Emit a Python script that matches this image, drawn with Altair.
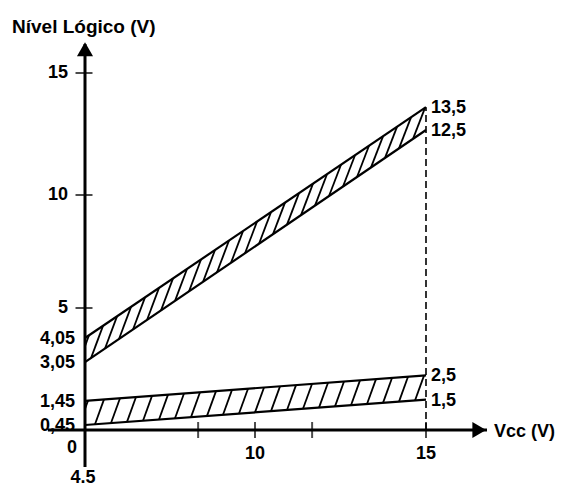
import altair as alt
import numpy as np
import pandas as pd

# ---- data ----
x_start, x_end = 4.5, 15.0
upper_left = [3.05, 4.05]     # band limits at Vcc = 4.5
upper_right = [12.5, 13.5]    # band limits at Vcc = 15
lower_left = [0.45, 1.45]
lower_right = [1.5, 2.5]
y_ticks = [5, 10, 15]
y_tick_labels = ["5", "10", "15"]
x_ticks = [8.16, 10, 11.67, 15]
x_tick_values = [10, 15]
x_tick_labels = ["10", "15"]
left_labels = ["3,05", "4,05", "0,45", "1,45"]
right_labels = ["12,5", "13,5", "1,5", "2,5"]

FONT = "Liberation Sans"

# schematic (non-uniform) scales of the original drawing
X_DOM = [4.5, 10, 15, 16.88]
X_RNG = [0, 170, 341, 402]
Y_DOM = [-1.5, 0, 0.45, 4.05, 5, 10, 12.5, 15, 16.2]
Y_RNG = [423, 386, 381, 294, 264, 151, 86, 29, 0]
xs = alt.Scale(domain=X_DOM, range=X_RNG)
ys = alt.Scale(domain=Y_DOM, range=Y_RNG)


def fx(v):
    return np.interp(v, X_DOM, X_RNG)


def fy(v):
    return np.interp(v, Y_DOM, Y_RNG)


def ix(p):
    return float(np.interp(p, X_RNG, X_DOM))


def iy(p):
    return float(np.interp(p, Y_RNG[::-1], Y_DOM[::-1]))


def X(f="x"):
    return alt.X(f"{f}:Q", scale=xs, axis=None)


def Y(f="y"):
    return alt.Y(f"{f}:Q", scale=ys, axis=None)


# band boundary lines
bands = []
for name, left, right in [("up", upper_left, upper_right), ("lo", lower_left, lower_right)]:
    for k in range(2):
        bands.append({"id": f"{name}{k}", "x": x_start, "y": left[k]})
        bands.append({"id": f"{name}{k}", "x": x_end, "y": right[k]})
bands_df = pd.DataFrame(bands)


def hatch(left, right, d, step, phase):
    # hatching computed in drawing space so that it meets the straight band edges
    X0, X1 = fx(x_start), fx(x_end)
    l0, l1 = fy(left[0]), fy(right[0])
    h0, h1 = fy(left[1]), fy(right[1])

    def lo(px):
        return l0 + (l1 - l0) * (px - X0) / (X1 - X0)

    def hi(px):
        return h0 + (h1 - h0) * (px - X0) / (X1 - X0)

    rows = []
    for p0 in np.arange(X0 - d + phase, X1, step):
        p = np.array([p0, lo(p0)])
        q = np.array([p0 + d, hi(p0 + d)])
        a, b = p.copy(), q.copy()
        if p[0] < X0:
            a = p + (X0 - p[0]) / d * (q - p)
        if q[0] > X1:
            b = p + (X1 - p[0]) / d * (q - p)
        if b[0] - a[0] > 0.5:
            rows.append({"x": ix(a[0]), "y": iy(a[1]), "x2": ix(b[0]), "y2": iy(b[1])})
    return rows


hatch_df = pd.DataFrame(hatch(upper_left, upper_right, 12, 14, 4) +
                        hatch(lower_left, lower_right, 9, 16, 3))

band_lines = alt.Chart(bands_df).mark_line(color="black", strokeWidth=2.2).encode(
    x=X(), y=Y(), detail="id:N")

hatches = alt.Chart(hatch_df).mark_rule(color="black", strokeWidth=1.8).encode(
    x=X(), y=Y(), x2="x2:Q", y2="y2:Q")

# axes
yaxis = alt.Chart(pd.DataFrame({"x": [x_start], "y": [-1.5], "y2": [16.2]})).mark_rule(
    color="black", strokeWidth=3).encode(x=X(), y=Y(), y2="y2:Q")
xaxis = alt.Chart(pd.DataFrame({"x": [3.3], "x2": [16.88], "y": [0]})).mark_rule(
    color="black", strokeWidth=3).encode(x=X(), x2="x2:Q", y=Y())
yarrow = alt.Chart(pd.DataFrame({"x": [x_start], "y": [15.98]})).mark_point(
    shape="triangle-up", filled=True, color="black", size=260, opacity=1).encode(x=X(), y=Y())
xarrow = alt.Chart(pd.DataFrame({"x": [16.64], "y": [0]})).mark_point(
    shape="triangle-right", filled=True, color="black", size=250, opacity=1).encode(x=X(), y=Y())

dashed = alt.Chart(pd.DataFrame({"x": [x_end], "y": [0], "y2": [upper_right[1]]})).mark_rule(
    color="black", strokeWidth=1.6, strokeDash=[7, 4]).encode(x=X(), y=Y(), y2="y2:Q")

yt = alt.Chart(pd.DataFrame({"x": [x_start] * 3, "y": y_ticks})).mark_tick(
    orient="horizontal", color="black", thickness=2, size=17, xOffset=-1).encode(x=X(), y=Y())
xt = alt.Chart(pd.DataFrame({"x": x_ticks, "y": [0] * len(x_ticks)})).mark_tick(
    orient="vertical", color="black", thickness=2, size=16).encode(x=X(), y=Y())

txt = dict(font=FONT, fontSize=18, color="black", baseline="middle", fontWeight="bold")

ylab = alt.Chart(pd.DataFrame({"x": [x_start] * 3, "y": y_ticks, "t": y_tick_labels})).mark_text(
    align="right", dx=-17, **txt).encode(x=X(), y=Y(), text="t:N")

llab = alt.Chart(pd.DataFrame({"x": [x_start] * 4,
                               "y": upper_left + lower_left,
                               "t": left_labels})).mark_text(
    align="right", dx=-10, dy=1, **txt).encode(x=X(), y=Y(), text="t:N")

rlab = alt.Chart(pd.DataFrame({"x": [x_end] * 4,
                               "y": upper_right + lower_right,
                               "t": right_labels})).mark_text(
    align="left", dx=5, dy=1, **txt).encode(x=X(), y=Y(), text="t:N")

xlab = alt.Chart(pd.DataFrame({"x": x_tick_values, "y": [0, 0], "t": x_tick_labels})).mark_text(
    align="center", dy=24, **txt).encode(x=X(), y=Y(), text="t:N")

zero = alt.Chart(pd.DataFrame({"x": [x_start], "y": [0], "t": ["0"]})).mark_text(
    align="center", dx=-13, dy=18, **txt).encode(x=X(), y=Y(), text="t:N")
x0lab = alt.Chart(pd.DataFrame({"x": [x_start], "y": [0], "t": ["4.5"]})).mark_text(
    align="center", dx=-2, dy=48, **txt).encode(x=X(), y=Y(), text="t:N")

ytitle = alt.Chart(pd.DataFrame({"x": [x_start], "y": [16.2], "t": ["Nível Lógico (V)"]})).mark_text(
    align="left", dx=-73, dy=-17, **{**txt, "fontSize": 19}).encode(x=X(), y=Y(), text="t:N")
xtitle = alt.Chart(pd.DataFrame({"x": [16.88], "y": [0], "t": ["Vcc (V)"]})).mark_text(
    align="left", dx=7, dy=2, **txt).encode(x=X(), y=Y(), text="t:N")

chart = alt.layer(
    hatches, band_lines, dashed, xaxis, yaxis, yarrow, xarrow, yt, xt,
    ylab, llab, rlab, xlab, zero, x0lab, ytitle, xtitle
).properties(
    width=402, height=423,
    padding={"left": 77, "top": 36, "right": 72, "bottom": 22},
    autosize=alt.AutoSizeParams(type="none"),
    background="white",
).configure_view(stroke=None)

chart.save("out.html", embed_options={"renderer": "svg", "actions": False})
